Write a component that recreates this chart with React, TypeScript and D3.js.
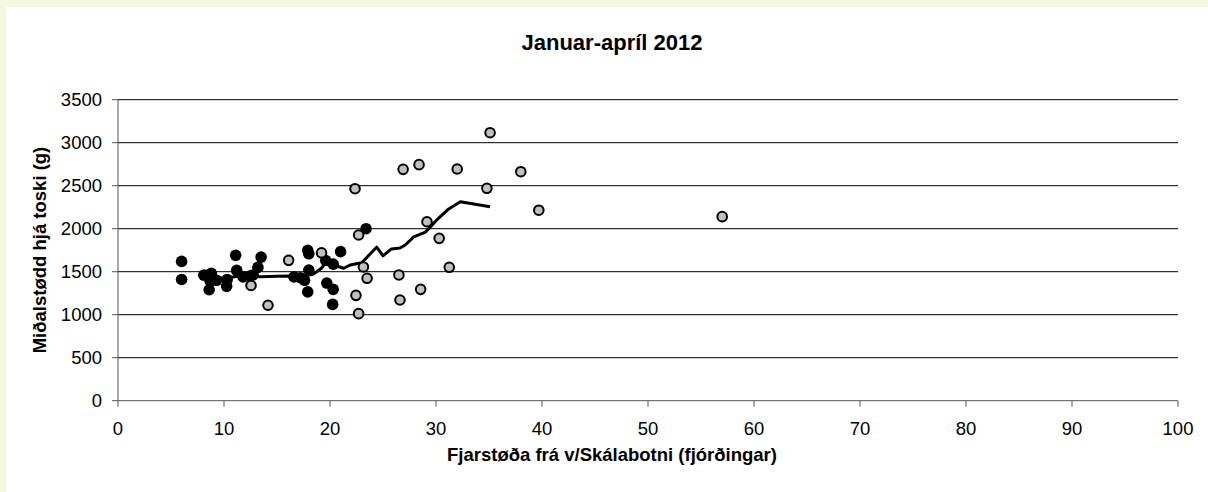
import React from "react";
import * as d3 from "d3";

// black markers: distance (fjórðingar), mean weight (g)
const blackX = [6.0, 6.0, 8.1, 8.8, 8.7, 8.6, 9.3, 10.25, 10.3, 11.1, 11.2, 11.8, 12.45, 13.2, 13.5, 12.75, 16.6, 17.2, 17.6, 18.0, 17.9, 18.0, 17.9, 19.6, 20.3, 21.0, 19.7, 20.3, 20.25, 23.4];
const blackY = [1620, 1410, 1460, 1480, 1390, 1290, 1400, 1330, 1410, 1690, 1515, 1440, 1450, 1550, 1670, 1462, 1440, 1430, 1400, 1520, 1748, 1708, 1265, 1630, 1588, 1733, 1368, 1295, 1120, 2000];

// grey markers
const greyX = [12.55, 14.15, 16.1, 19.2, 22.36, 22.7, 23.15, 23.5, 22.45, 22.7, 26.5, 26.6, 28.55, 29.15, 30.3, 31.25, 26.9, 28.4, 32.0, 35.1, 34.8, 38.0, 39.7, 57.0];
const greyY = [1340, 1110, 1632, 1720, 2465, 1927, 1555, 1423, 1225, 1012, 1462, 1171, 1295, 2081, 1888, 1551, 2690, 2745, 2694, 3116, 2470, 2663, 2215, 2140];

// trend line
const lineX = [8.0, 9.0, 10.0, 11.5, 13.4, 15.9, 17.2, 18.4, 19.2, 19.7, 20.3, 21.3, 21.9, 23.0, 24.4, 25.0, 25.8, 26.6, 27.1, 27.9, 29.0, 30.1, 31.2, 32.3, 35.1];
const lineY = [1455, 1430, 1425, 1450, 1442, 1450, 1442, 1470, 1540, 1624, 1578, 1540, 1578, 1605, 1785, 1685, 1765, 1775, 1810, 1905, 1960, 2105, 2230, 2314, 2256];

const xTicks = [0, 10, 20, 30, 40, 50, 60, 70, 80, 90, 100];
const yTicks = [0, 500, 1000, 1500, 2000, 2500, 3000, 3500];

const title = "Januar-apríl 2012";
const xTitle = "Fjarstøða frá v/Skálabotni (fjórðingar)";
const yTitle = "Miðalstødd hjá toski (g)";

const W = 1208;
const H = 492;
const font = "'Liberation Sans', Arial, sans-serif";

export default function App() {
  const x = d3.scaleLinear().domain([0, 100]).range([118, 1178]);
  const y = d3.scaleLinear().domain([0, 3500]).range([400.7, 99.7]);

  const line = d3
    .line<number>()
    .x((d, i) => x(lineX[i]))
    .y((d, i) => y(lineY[i]));

  return (
    <svg
      width={W}
      height={H}
      style={{ position: "absolute", left: 0, top: 0 }}
      fontFamily={font}
    >
      <rect x={0} y={0} width={W} height={H} fill="#f5f8e1" />
      <rect x={6} y={7} width={W - 6} height={H - 7} fill="#ffffff" />

      <text x={612} y={50} textAnchor="middle" fontSize={22} fontWeight="bold">
        {title}
      </text>

      {yTicks.map((t) => (
        <g key={"y" + t}>
          {t > 0 && (
            <line x1={x(0)} x2={x(100)} y1={y(t)} y2={y(t)} stroke="#000" strokeWidth={1} />
          )}
          <line x1={x(0) - 6} x2={x(0)} y1={y(t)} y2={y(t)} stroke="#555" strokeWidth={1} />
          <text x={x(0) - 16} y={y(t) + 6.5} textAnchor="end" fontSize={18.5}>
            {t}
          </text>
        </g>
      ))}

      {xTicks.map((t) => (
        <g key={"x" + t}>
          <line x1={x(t)} x2={x(t)} y1={y(0)} y2={y(0) + 6} stroke="#555" strokeWidth={1} />
          <text x={x(t)} y={435} textAnchor="middle" fontSize={18.5}>
            {t}
          </text>
        </g>
      ))}

      <line x1={x(0)} x2={x(0)} y1={y(3500)} y2={y(0)} stroke="#555" strokeWidth={1} />
      <line x1={x(0)} x2={x(100)} y1={y(0)} y2={y(0)} stroke="#555" strokeWidth={1} />

      <path d={line(lineX) || ""} fill="none" stroke="#000" strokeWidth={3} strokeLinejoin="round" />

      {blackX.map((v, i) => (
        <circle key={"b" + i} cx={x(v)} cy={y(blackY[i])} r={5.8} fill="#000" />
      ))}

      {greyX.map((v, i) => (
        <circle
          key={"g" + i}
          cx={x(v)}
          cy={y(greyY[i])}
          r={4.8}
          fill="#c0c0c0"
          stroke="#000"
          strokeWidth={2}
        />
      ))}

      <text x={612} y={461} textAnchor="middle" fontSize={18.5} fontWeight="bold">
        {xTitle}
      </text>

      <text
        transform={`translate(46,250) rotate(-90)`}
        textAnchor="middle"
        fontSize={18.5}
        fontWeight="bold"
      >
        {yTitle}
      </text>
    </svg>
  );
}
